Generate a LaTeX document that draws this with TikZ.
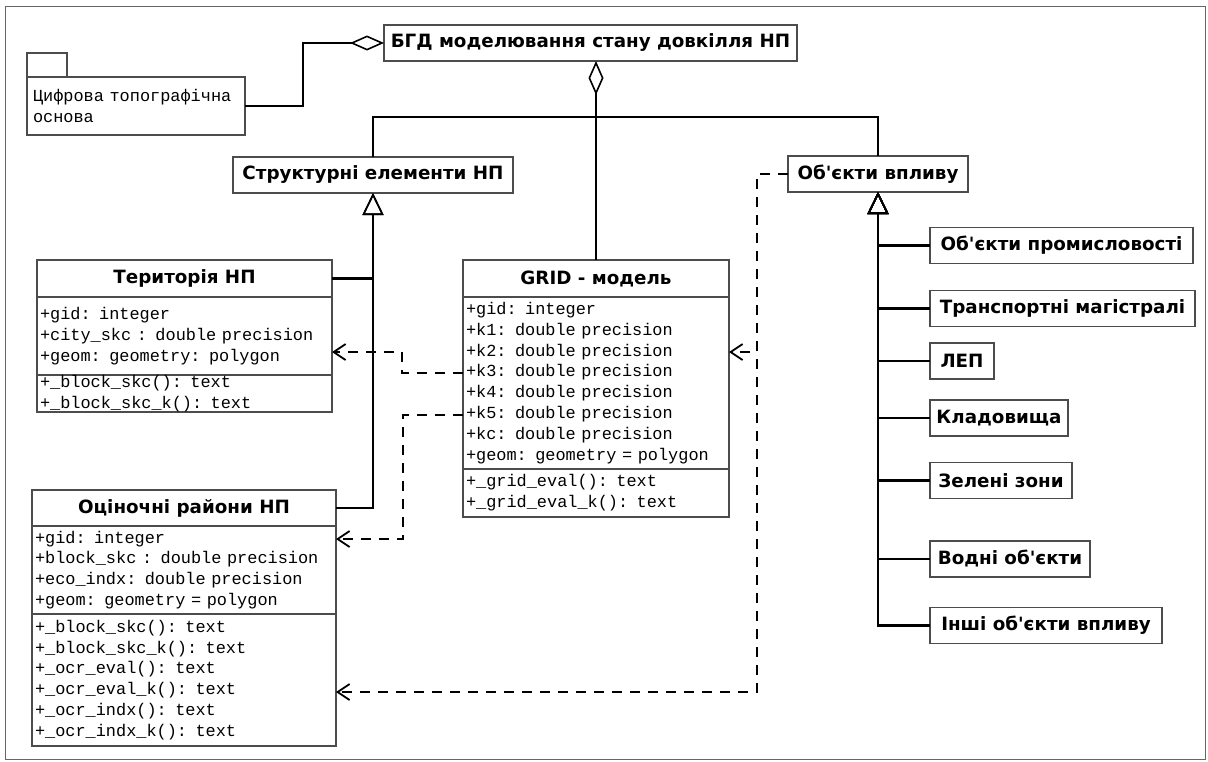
\documentclass[tikz,border=0pt]{standalone}
\usepackage{fontspec}
\usetikzlibrary{positioning,arrows.meta}
\newfontfamily\headfont{DejaVu Sans}[Ligatures=TeXOff]
\newfontfamily\attrfont{Liberation Mono}
\begin{document}
\begin{tikzpicture}[x=1pt,y=-1pt,
box/.style={draw=black!70,line width=1.2pt,inner xsep=6pt,inner ysep=0pt,outer sep=0pt,minimum height=36pt,font=\headfont\bfseries\fontsize{18.3}{22}\selectfont},
sect/.style={draw=black!70,line width=1.2pt,inner xsep=3pt,inner ysep=0pt,outer sep=0pt,align=left,font=\attrfont\fontsize{16.9}{20.8}\selectfont},
conn/.style={line width=2.5pt},
agg/.style={conn,-{Diamond[open,length=34pt,width=15pt,line width=1.6pt]}},
inh/.style={conn,-{Triangle[open,length=22pt,width=21pt,line width=1.6pt]}},
dep/.style={line width=2.2pt,dash pattern=on 10pt off 8pt,-{Straight Barb[length=12pt,width=16pt,line width=1.8pt]}}]
\useasboundingbox (0,0) rectangle (1208,761);
\draw[black!60,line width=1pt] (5,6) rectangle (1205,759);
\coordinate (bus) at (0,117);
\node[box,minimum width=413pt] (bgd) at (590.5,43) {БГД моделювання стану довкілля НП};
\node[sect,anchor=north west,minimum width=218pt,minimum height=58pt,text width=206pt,inner xsep=6pt] (pkg) at (27,77) {Цифрова топографічна\\основа};
\node[sect,anchor=south west,minimum width=40pt,minimum height=24pt] (pkgtab) at (pkg.north west) {};
\node[box,minimum width=280pt] (struct) at (373,175) {Структурні елементи НП};
\node[box,minimum width=180pt] (infl) at (878,174) {Об'єкти впливу};
\node[box,anchor=north west,minimum width=295pt,minimum height=37pt] (terr) at (37,260) {Територія НП};
\node[sect,below=0pt of terr,text width=289pt,minimum height=78pt] (terrattr) {+gid: integer\\+city\_skc : double precision\\+geom: geometry: polygon};
\node[sect,below=0pt of terrattr,text width=289pt,minimum height=37pt] (terrmeth) {+\_block\_skc(): text\\+\_block\_skc\_k(): text};
\node[box,anchor=north west,minimum width=266pt,minimum height=37pt] (grid) at (463,260) {GRID - модель};
\node[sect,below=0pt of grid,text width=260pt,minimum height=172pt] (gridattr) {+gid: integer\\+k1: double precision\\+k2: double precision\\+k3: double precision\\+k4: double precision\\+k5: double precision\\+kc: double precision\\+geom: geometry = polygon};
\node[sect,below=0pt of gridattr,text width=260pt,minimum height=48pt] (gridmeth) {+\_grid\_eval(): text\\+\_grid\_eval\_k(): text};
\node[box,anchor=north west,minimum width=304pt,minimum height=36pt] (ocin) at (32,490) {Оціночні райони НП};
\node[sect,below=0pt of ocin,text width=298pt,minimum height=88pt] (ocinattr) {+gid: integer\\+block\_skc : double precision\\+eco\_indx: double precision\\+geom: geometry = polygon};
\node[sect,below=0pt of ocinattr,text width=298pt,minimum height=132pt] (ocinmeth) {+\_block\_skc(): text\\+\_block\_skc\_k(): text\\+\_ocr\_eval(): text\\+\_ocr\_eval\_k(): text\\+\_ocr\_indx(): text\\+\_ocr\_indx\_k(): text};
\node[box,anchor=west,minimum width=263pt] (ind) at (930,245.5) {Об'єкти промисловості};
\node[box,anchor=west,minimum width=265pt] (trans) at (930,308.5) {Транспортні магістралі};
\node[box,anchor=west,minimum width=64pt] (lep) at (930,361) {ЛЕП};
\node[box,anchor=west,minimum width=138pt] (cem) at (930,418) {Кладовища};
\node[box,anchor=west,minimum width=142pt] (green) at (930,480.5) {Зелені зони};
\node[box,anchor=west,minimum width=160pt] (water) at (930,559) {Водні об'єкти};
\node[box,anchor=west,minimum width=232pt] (other) at (930,625.5) {Інші об'єкти впливу};
\draw[agg] (pkg.east) -- ++(58,0) |- (bgd.west);
\draw[agg] (grid.north) -- (grid.north |- bgd.south);
\draw[conn] (struct.north) |- (infl.north |- bus) -- (infl.north);
\draw[inh] (terr.east) -| (struct.south);
\draw[inh] (ocin.east) -| (struct.south);
\foreach \c in {ind,trans,lep,cem,green,water,other} \draw[inh] (\c.west) -| (infl.south);
\draw[dep] ([yshift=10pt]gridattr.west) -- ++(-61,0) |- ([yshift=-16pt]terrattr.east);
\draw[dep] ([yshift=-32pt]gridattr.west) -- ++(-60,0) |- ([yshift=31pt]ocinattr.east);
\draw[dep] (infl.west) -- ++(-31,0) |- ([yshift=31pt]gridattr.east);
\draw[dep] (infl.west) -- ++(-31,0) |- ([yshift=-12pt]ocinmeth.east);
\end{tikzpicture}
\end{document}
